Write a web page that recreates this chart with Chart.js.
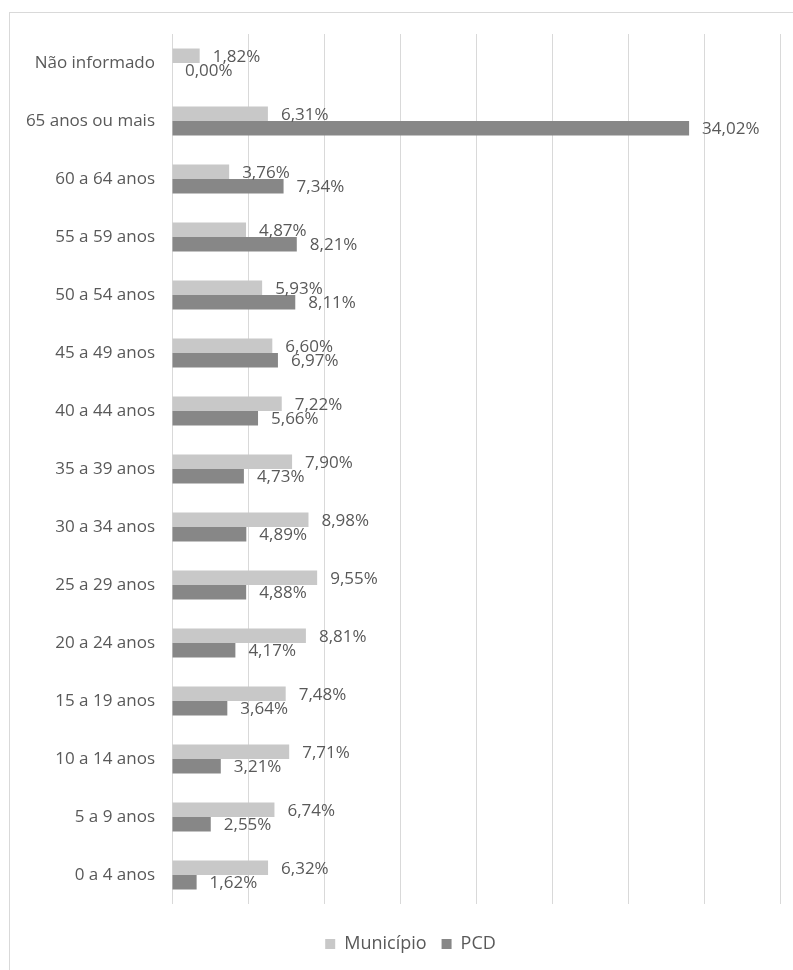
<!DOCTYPE html>
<html lang="pt">
<head>
<meta charset="utf-8">
<title>Faixa etária - Município x PCD</title>
<script src="https://cdn.jsdelivr.net/npm/chart.js@4.4.1/dist/chart.umd.min.js"></script>
<style>
    html, body { margin: 0; padding: 0; background: #ffffff; }
    .wrap { position: relative; width: 793px; height: 970px; overflow: hidden; }
    .frame {
        position: absolute; left: 9px; top: 12px; right: -10px; bottom: -10px;
        border-left: 1px solid #d9d9d9; border-top: 1px solid #d9d9d9;
    }
    canvas { position: absolute; left: 0; top: 0; }
</style>
</head>
<body>
<div class="wrap">
    <div class="frame"></div>
    <canvas id="faixas" width="793" height="970"></canvas>
</div>
<script>
// Faixas etárias (de cima para baixo)
const faixas = [
    'Não informado', '65 anos ou mais', '60 a 64 anos', '55 a 59 anos', '50 a 54 anos',
    '45 a 49 anos', '40 a 44 anos', '35 a 39 anos', '30 a 34 anos', '25 a 29 anos',
    '20 a 24 anos', '15 a 19 anos', '10 a 14 anos', '5 a 9 anos', '0 a 4 anos'
];

// Percentuais por faixa
const municipio = [1.82, 6.31, 3.76, 4.87, 5.93, 6.60, 7.22, 7.90, 8.98, 9.55, 8.81, 7.48, 7.71, 6.74, 6.32];
const pcd = [0.00, 34.02, 7.34, 8.21, 8.11, 6.97, 5.66, 4.73, 4.89, 4.88, 4.17, 3.64, 3.21, 2.55, 1.62];

const FONT = "'Open Sans', 'DejaVu Sans', sans-serif";
const TEXT_COLOR = '#595959';

function formatPct(v) {
    return v.toFixed(2).replace('.', ',') + '%';
}

// Rótulos de valor na ponta de cada barra
const valueLabels = {
    id: 'valueLabels',
    afterDatasetsDraw(chart) {
        const ctx = chart.ctx;
        ctx.save();
        ctx.font = '17px ' + FONT;
        ctx.fillStyle = TEXT_COLOR;
        ctx.textAlign = 'left';
        ctx.textBaseline = 'middle';
        chart.data.datasets.forEach((ds, i) => {
            const meta = chart.getDatasetMeta(i);
            meta.data.forEach((bar, j) => {
                ctx.fillText(formatPct(ds.data[j]), bar.x + 13, bar.y + 1);
            });
        });
        ctx.restore();
    }
};

// Legenda um pouco deslocada para a direita, centrada sob a área do gráfico
const legendShift = {
    id: 'legendShift',
    afterLayout(chart) {
        if (chart.legend) {
            chart.legend.left += 41;
        }
    }
};

const chart = new Chart(document.getElementById('faixas'), {
    type: 'bar',
    data: {
        labels: faixas,
        datasets: [
            {
                label: 'Município',
                data: municipio,
                backgroundColor: '#c8c8c8',
                categoryPercentage: 0.5,
                barPercentage: 1.0
            },
            {
                label: 'PCD',
                data: pcd,
                backgroundColor: '#878787',
                categoryPercentage: 0.5,
                barPercentage: 1.0
            }
        ]
    },
    options: {
        indexAxis: 'y',
        responsive: false,
        animation: false,
        layout: {
            padding: { top: 34, right: 13, bottom: 7, left: 0 }
        },
        scales: {
            x: {
                min: 0,
                max: 40,
                ticks: { display: false, stepSize: 5 },
                grid: { color: '#d9d9d9', lineWidth: 1, drawTicks: false },
                border: { display: false },
                afterFit(scale) { scale.height = 16; }
            },
            y: {
                ticks: {
                    color: TEXT_COLOR,
                    padding: 17,
                    font: { family: FONT, size: 17 }
                },
                grid: { display: false, drawTicks: false },
                border: { display: false },
                afterFit(scale) { scale.width = 172; }
            }
        },
        plugins: {
            legend: {
                position: 'bottom',
                labels: {
                    boxWidth: 10,
                    boxHeight: 10,
                    padding: 15,
                    color: TEXT_COLOR,
                    font: { family: FONT, size: 18 }
                }
            },
            tooltip: { enabled: false }
        }
    },
    plugins: [valueLabels, legendShift]
});
</script>
</body>
</html>
